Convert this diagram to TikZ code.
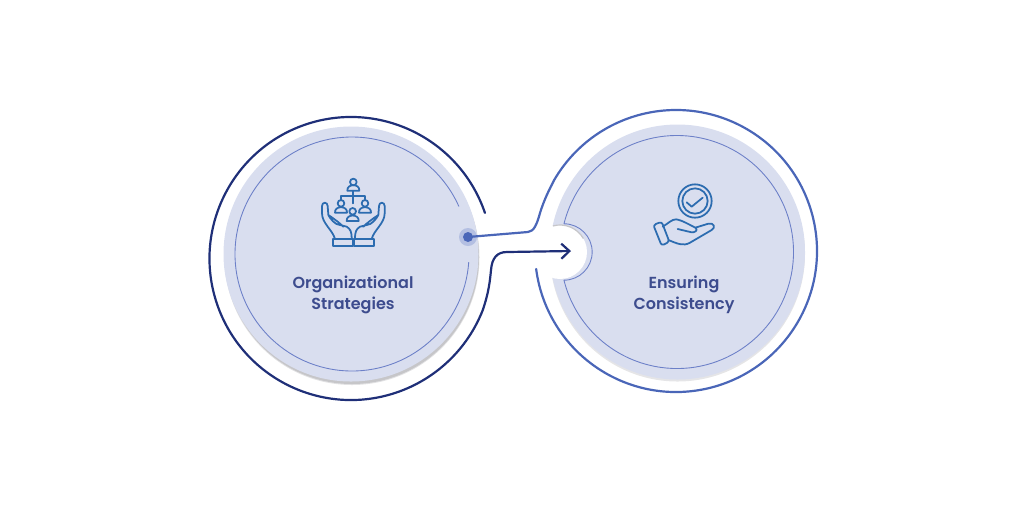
\documentclass[tikz,border=0pt]{standalone}
\usepackage{fontspec}
\setmainfont{Poppins}[UprightFont=* SemiBold]
\usepackage{xcolor}
\usepackage{tikz}
\usetikzlibrary{positioning, calc, arrows.meta}

\definecolor{discfill}{HTML}{D9DEEF}
\definecolor{discshadow}{HTML}{C6C6C9}
\definecolor{haloblue}{HTML}{B4BFE2}
\definecolor{thinblue}{HTML}{6C80C8}
\definecolor{navyline}{HTML}{1F2F78}
\definecolor{midblue}{HTML}{4A66B8}
\definecolor{iconblue}{HTML}{2C6CB0}
\definecolor{labelblue}{HTML}{3D4C8E}

\tikzset{
  outerline/.style={line width=1.25pt, line cap=round},
  thinline/.style={line width=0.5pt, thinblue},
  iconline/.style={line width=1pt, iconblue, line join=round, line cap=round},
  circlelabel/.style={font=\fontsize{9.1}{11.6}\selectfont, text=labelblue, align=center}
}

\begin{document}
\begin{tikzpicture}[x=0.02cm, y=-0.02cm]
    \useasboundingbox (0,0) rectangle (1024,512);
    \coordinate (leftcenter) at (351,258.5);
    \coordinate (rightcenter) at (676,251);

    % discs with their soft shadow
    \fill[discshadow!50] (352,257.5) circle (127.5);
    \fill[discshadow] (352,257) circle (127);
    \fill[discfill] (351,254) circle (127.5);
    \fill[discshadow!45] (677.5,254) circle (127.5);
    \fill[discfill] (677.5,252) circle (127.5);

    % notch of the right disc
    \fill[white] (560,252) circle (27);
    \draw[discshadow, line width=0.7pt] ([shift={(255:27)}]560,252) arc[start angle=255, end angle=330, radius=27];

    % thin inner lines
    \draw[thinline] ([shift={(4:117)}]352,254) arc[start angle=4, end angle=336, radius=117];
    \coordinate (thinright) at (677,252);
    \draw[thinline] ([shift={(194:116.5)}]thinright) arc[start angle=194, end angle=526, radius=116.5]
      arc[start angle=90, end angle=-90, radius=28.2];

    % start dot
    \node[circle, fill=haloblue, minimum size=0.36cm, inner sep=0pt] (dothalo) at (468,237) {};
    \node[circle, fill=midblue, minimum size=0.2cm, inner sep=0pt] (startdot) at (468,237) {};

    % connector into the right ring
    \coordinate (bendtop) at (528,232);
    \draw[outerline, midblue] (startdot.center) -- (bendtop)
      .. controls (534,231.5) and (537,224) .. (540,213)
      .. controls (544,200) and (549,190) .. ([shift={(210.4:141)}]rightcenter)
      arc[start angle=210.4, end angle=532.7, radius=141];

    % left ring running into the arrow
    \coordinate (arrowtip) at (571,251);
    \draw[outerline, navyline, -{Straight Barb[length=4.6pt, width=8.6pt]}]
      ([shift={(341.2:141.5)}]leftcenter)
      arc[start angle=341.2, end angle=21.5, radius=141.5]
      .. controls (489,292) and (490,280) .. (491,270)
      .. controls (492,258) and (497,252) .. (507,252) -- (arrowtip);

    % icon on the left: people and hands
    \begin{scope}[shift={(310,170)}, scale=1/3]
      \draw[iconline] (130,36) circle (10);
      \draw[iconline] (112,62) .. controls (110,40) and (150,40) .. (148,62) -- cycle;
      \draw[iconline] (130,62) -- (130,100);
      \draw[iconline] (93,88) -- (93,78) -- (165,78) -- (165,88);
      \draw[iconline] (93,100) circle (10);
      \draw[iconline] (75,128) .. controls (73,106) and (113,106) .. (111,128) -- cycle;
      \draw[iconline] (165,100) circle (10);
      \draw[iconline] (147,128) .. controls (145,106) and (185,106) .. (183,128) -- cycle;
      \draw[iconline, fill=discfill] (128,124) circle (10);
      \draw[iconline, fill=discfill] (110,153) .. controls (108,131) and (148,131) .. (146,153) -- cycle;
      % left hand
      \draw[iconline] (75,207) .. controls (68,180) and (36,160) .. (36,130)
        -- (36,108) .. controls (36,95) and (53,95) .. (53,108)
        -- (55,135) .. controls (75,148) and (90,160) .. (100,170)
        (55,135) .. controls (60,145) and (75,165) .. (90,165)
        -- (110,170) .. controls (122,178) and (125,185) .. (125,207);
      \draw[iconline] (68,208) rectangle (128,228);
      % right hand
      \draw[iconline] (185,207) .. controls (192,180) and (224,160) .. (224,130)
        -- (224,108) .. controls (224,95) and (207,95) .. (207,108)
        -- (205,135) .. controls (185,148) and (170,160) .. (160,170)
        (205,135) .. controls (200,145) and (185,165) .. (170,165)
        -- (150,170) .. controls (138,178) and (135,185) .. (135,207);
      \draw[iconline] (133,208) rectangle (192,228);
    \end{scope}

    % icon on the right: hand and tick
    \begin{scope}[shift={(640,175)}, scale=1/3]
      \draw[iconline] (165,78) circle (50);
      \draw[iconline] (165,78) circle (38);
      \draw[iconline] (140,82) -- (155,95) -- (188,68);
      \draw[iconline, rounded corners=1.5pt] (40,150) -- (65,140) -- (88,200) -- (65,212) -- cycle;
      \draw[iconline] (68,155) .. controls (85,145) and (95,133) .. (108,133)
        .. controls (125,135) and (150,150) .. (166,158)
        .. controls (176,165) and (165,173) .. (155,172) -- (113,162);
      \draw[iconline] (166,158) -- (205,146)
        .. controls (222,142) and (228,158) .. (215,165)
        -- (150,203) .. controls (130,215) and (110,205) .. (85,195);
    \end{scope}

    % labels
    \node[circlelabel] (orglabel) at (353,295) {Organizational\\Strategies};
    \node[circlelabel] (consistlabel) at (684,295) {Ensuring\\Consistency};
  \end{tikzpicture}
\end{document}
